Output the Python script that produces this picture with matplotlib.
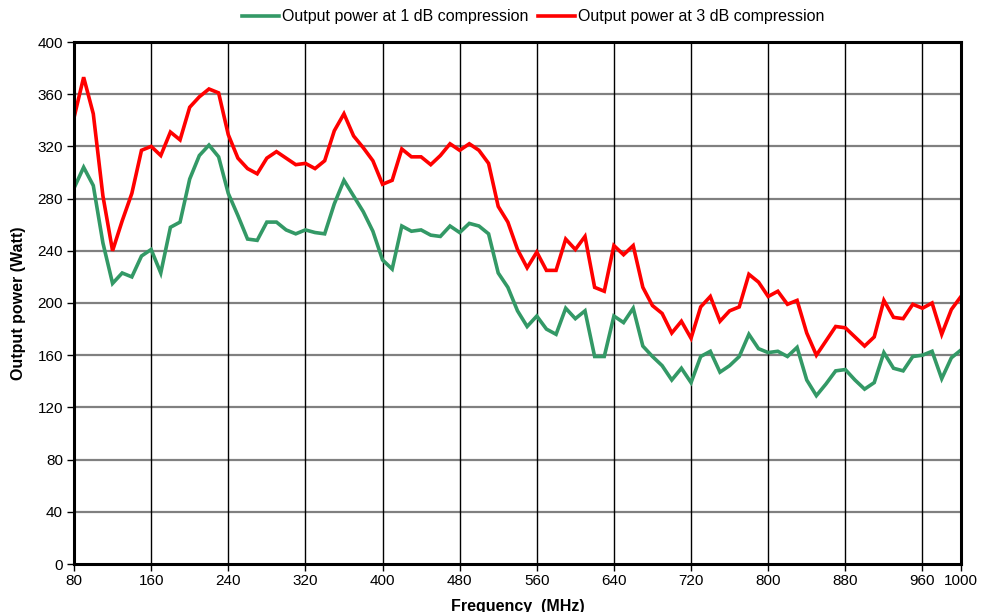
import matplotlib
matplotlib.use("Agg")
import matplotlib.pyplot as plt
import numpy as np

plt.rcParams['font.family'] = ['Liberation Sans', 'DejaVu Sans']

freq = list(range(80, 1001, 10))

p1db = [288, 304, 290, 246, 215, 223, 220, 236, 241, 223,
        258, 262, 295, 313, 321, 312, 284, 267, 249, 248,
        262, 262, 256, 253, 256, 254, 253, 276, 294, 282,
        270, 255, 233, 226, 259, 255, 256, 252, 251, 259,
        254, 261, 259, 253, 223, 212, 194, 182, 190, 180,
        176, 196, 188, 194, 159, 159, 190, 185, 196, 167,
        159, 152, 141, 150, 139, 159, 163, 147, 152, 159,
        176, 165, 162, 163, 159, 166, 141, 129, 138, 148,
        149, 141, 134, 139, 162, 150, 148, 159, 160, 163,
        142, 158, 164]

p3db = [342, 373, 345, 282, 240, 263, 284, 317, 320, 313,
        331, 325, 350, 358, 364, 361, 329, 311, 303, 299,
        311, 316, 311, 306, 307, 303, 309, 332, 345, 328,
        319, 309, 291, 294, 318, 312, 312, 306, 313, 322,
        317, 322, 317, 307, 274, 262, 241, 227, 239, 225,
        225, 249, 241, 251, 212, 209, 244, 237, 244, 212,
        198, 192, 177, 186, 173, 197, 205, 186, 194, 197,
        222, 216, 205, 209, 199, 202, 177, 160, 171, 182,
        181, 174, 167, 174, 202, 189, 188, 199, 196, 200,
        176, 195, 205]

xticks = [80, 160, 240, 320, 400, 480, 560, 640, 720, 800, 880, 960, 1000]
yticks = list(range(0, 401, 40))

fig = plt.figure(figsize=(9.83, 6.12), dpi=100)
ax = fig.add_axes([74/983, 48/612, (961-74)/983, (564-42)/612])

l1, = ax.plot(freq, p1db, color='#339966', lw=2.6, label='Output power at 1 dB compression', solid_joinstyle='miter')
l2, = ax.plot(freq, p3db, color='#FF0000', lw=2.6, label='Output power at 3 dB compression', solid_joinstyle='miter')

ax.set_xlim(80, 1000)
ax.set_ylim(0, 400)
ax.set_xticks(xticks)
ax.set_yticks(yticks)
ax.tick_params(axis='both', direction='out', length=5, width=1, labelsize=11, colors='black')
ax.tick_params(axis='x', pad=2)
ax.tick_params(axis='y', pad=3)

for y in yticks[1:-1]:
    ax.axhline(y, color='#808080', lw=1.6, zorder=0)
for x in xticks[1:-1]:
    ax.axvline(x, color='black', lw=1.0, zorder=0)

for s in ax.spines.values():
    s.set_linewidth(2.2)
    s.set_color('black')

ax.set_xlabel('Frequency  (MHz)', fontsize=11.5, fontweight='bold', labelpad=8)
ax.set_ylabel('Output power (Watt)', fontsize=11.5, fontweight='bold', labelpad=8)

fig.legend(handles=[l1, l2], loc='center', bbox_to_anchor=(533/983, 1 - 17/612),
           ncol=2, frameon=False, fontsize=11.5, handlelength=2.3, handletextpad=0.2,
           columnspacing=0.6, borderpad=0)

fig.savefig('out.png', dpi=100)
